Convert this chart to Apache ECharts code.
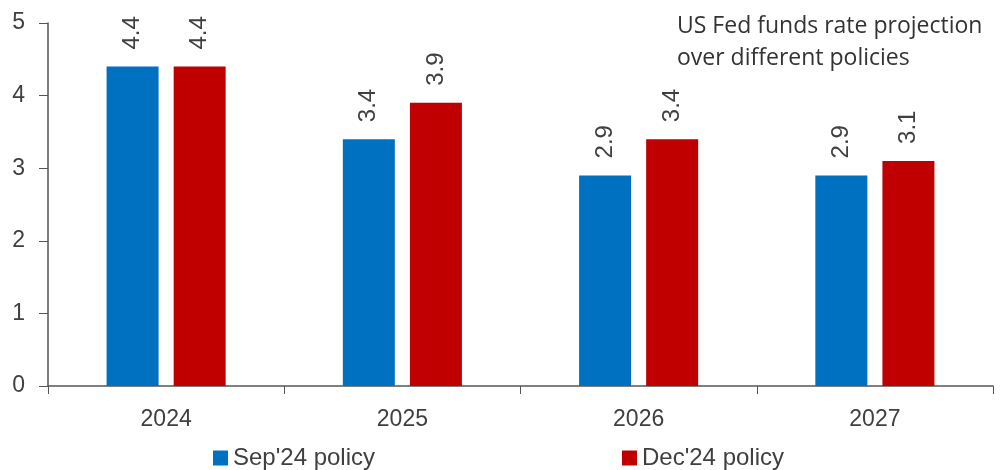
<!DOCTYPE html>
<html><head><meta charset="utf-8">
<script src="https://cdn.jsdelivr.net/npm/echarts@6/dist/echarts.min.js"></script>
<style>html,body{margin:0;padding:0;background:#fff}#c{width:1003px;height:470px}</style>
</head><body><div id="c"></div>
<script>
const categories = ['2024', '2025', '2026', '2027'];
const sepPolicy = [4.4, 3.4, 2.9, 2.9];
const decPolicy = [4.4, 3.9, 3.4, 3.1];
const seriesNames = ["Sep'24 policy", "Dec'24 policy"];
const titleText = 'US Fed funds rate projection\nover different policies';

const chart = echarts.init(document.getElementById('c'));
const labelCfg = {
  show: true, position: 'top', rotate: 90, align: 'left', verticalAlign: 'middle',
  distance: 17, color: '#404040', fontSize: 24, fontFamily: 'Liberation Sans',
  formatter: p => p.value.toFixed(1)
};
const legendText = { fontFamily: 'Liberation Sans', fontSize: 24, color: '#404040' };
chart.setOption({
  animation: false,
  title: {
    text: titleText, left: 672, top: 5,
    textStyle: { fontFamily: 'Open Sans', fontSize: 23, fontWeight: 'normal', color: '#333', lineHeight: 32 }
  },
  legend: [
    { data: [seriesNames[0]], top: 441, left: 208, icon: 'rect', itemWidth: 15, itemHeight: 15, textStyle: legendText },
    { data: [seriesNames[1]], top: 441, left: 617, icon: 'rect', itemWidth: 15, itemHeight: 15, textStyle: legendText }
  ],
  grid: { left: 48, right: 10, top: 23, bottom: 84, containLabel: false },
  xAxis: {
    type: 'category', data: categories,
    axisLine: { lineStyle: { color: '#555', width: 1.5 } },
    axisTick: { show: true, length: 8, lineStyle: { color: '#555' } },
    axisLabel: { color: '#404040', fontSize: 23, fontFamily: 'Liberation Sans', margin: 22 }
  },
  yAxis: {
    type: 'value', min: 0, max: 5, interval: 1,
    splitLine: { show: false },
    axisLine: { show: true, lineStyle: { color: '#555', width: 1.5 } },
    axisTick: { show: true, length: 9, lineStyle: { color: '#555' } },
    axisLabel: { color: '#404040', fontSize: 23, fontFamily: 'Liberation Sans', margin: 23 }
  },
  series: [
    { name: seriesNames[0], type: 'bar', data: sepPolicy, barWidth: 52, barGap: '29%',
      itemStyle: { color: '#0070C0' }, label: labelCfg },
    { name: seriesNames[1], type: 'bar', data: decPolicy, barWidth: 52,
      itemStyle: { color: '#C00000' }, label: labelCfg }
  ]
});
</script></body></html>
